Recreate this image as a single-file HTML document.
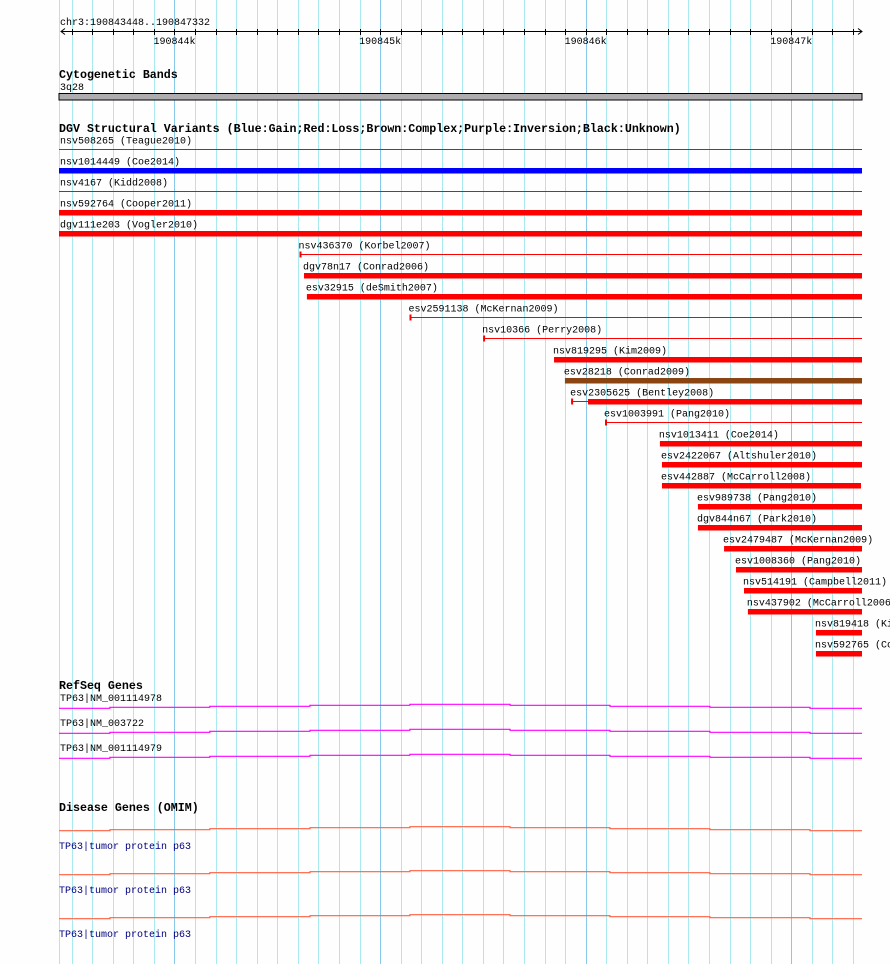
<!DOCTYPE html>
<html><head><meta charset="utf-8"><style>
html,body{margin:0;padding:0;background:#fdfefd;width:890px;height:964px;overflow:hidden}
svg{display:block}
text{font-family:"Liberation Mono",monospace;font-size:10px;fill:#000}
.hdr{font-weight:bold;font-size:11.65px}
</style></head><body>
<svg id="chart" width="890" height="964" xmlns="http://www.w3.org/2000/svg"></svg>
<script>
const regionStart = 190843448;
const regionEnd = 190847332;
const tickLabels = ["190844k","190845k","190846k","190847k"];
const tickValues = [190844000,190845000,190846000,190847000];
const svNames = ["nsv508265 (Teague2010)","nsv1014449 (Coe2014)","nsv4167 (Kidd2008)","nsv592764 (Cooper2011)","dgv111e203 (Vogler2010)","nsv436370 (Korbel2007)","dgv78n17 (Conrad2006)","esv32915 (deSmith2007)","esv2591138 (McKernan2009)","nsv10366 (Perry2008)","nsv819295 (Kim2009)","esv28218 (Conrad2009)","esv2305625 (Bentley2008)","esv1003991 (Pang2010)","nsv1013411 (Coe2014)","esv2422067 (Altshuler2010)","esv442887 (McCarroll2008)","esv989738 (Pang2010)","dgv844n67 (Park2010)","esv2479487 (McKernan2009)","esv1008360 (Pang2010)","nsv514191 (Campbell2011)","nsv437902 (McCarroll2006)","nsv819418 (Kim2009)","nsv592765 (Cooper2011)"];
const svStarts = [190843400,190843400,190843400,190843400,190843400,190844608,190844630,190844644,190845143,190845501,190845846,190845899,190845929,190846094,190846361,190846371,190846371,190846546,190846546,190846673,190846731,190846770,190846789,190847120,190847120];
const svThickStarts = [null,190843400,null,190843400,190843400,null,190844630,190844644,null,null,190845846,190845899,190846011,null,190846361,190846371,190846371,190846546,190846546,190846673,190846731,190846770,190846789,190847120,190847120];
const svEnds = [190847400,190847400,190847400,190847400,190847400,190847400,190847400,190847400,190847400,190847400,190847400,190847400,190847400,190847400,190847400,190847400,190847339,190847400,190847400,190847400,190847400,190847400,190847400,190847400,190847400];
const svTypes = ["loss","gain","loss","loss","loss","loss","loss","loss","loss","loss","loss","complex","loss","loss","loss","loss","loss","loss","loss","loss","loss","loss","loss","loss","loss"];
const refseqNames = ["TP63|NM_001114978","TP63|NM_003722","TP63|NM_001114979"];
const omimNames = ["TP63|tumor protein p63","TP63|tumor protein p63","TP63|tumor protein p63"];
const geneSteps = [190843686,190844172,190844659,190845145,190845632,190846118,190846604,190847091];
const geneOffsets = [0,-1,-2,-3,-4,-3,-2,-1,0];

const NS="http://www.w3.org/2000/svg";
const svg=document.getElementById('chart');
const L=59,R=862;
const pxPerBp=205.6/1000;
function xs(bp){return Math.max(L,Math.min(R,61+(bp-regionStart)*pxPerBp));}
function mk(tag,attrs,parent){const e=document.createElementNS(NS,tag);for(const k in attrs)e.setAttribute(k,attrs[k]);(parent||svg).appendChild(e);return e;}
const colors={gain:"#0000ff",loss:"#ff0000",complex:"#8b4513"};

// grid
const grid=mk('g',{});


mk('line',{x1:59.5,x2:59.5,y1:0,y2:964,stroke:"#a8eaf0","stroke-width":1},grid);
for(let bp=Math.ceil(regionStart/100)*100;bp<=regionEnd;bp+=100){
  const x=Math.round(xs(bp))+0.5;
  const major=bp%1000===0;
  const ln=mk('line',{x1:x,x2:x,y1:0,y2:964,stroke:major?"#88c8e8":"#a8eaf0","stroke-width":1},grid);
  
  
}

// ruler
const rul=mk('g',{});


const t0=mk('text',{x:60,y:25},rul);t0.textContent="chr3:"+regionStart+".."+regionEnd;


mk('line',{x1:61,x2:862,y1:31.5,y2:31.5,stroke:"#000"},rul);
mk('path',{d:"M65,28.5 L61,31.5 L65,34.5",fill:"none",stroke:"#000"},rul);
mk('path',{d:"M858,28.5 L862,31.5 L858,34.5",fill:"none",stroke:"#000"},rul);
for(let bp=Math.ceil(regionStart/100)*100;bp<=regionEnd;bp+=100){
  const x=Math.round(xs(bp))+0.5;
  mk('line',{x1:x,x2:x,y1:29,y2:35,stroke:"#000"},rul);
}
tickValues.forEach((v,i)=>{
  const t=mk('text',{x:xs(v),y:44,"text-anchor":"middle"},rul);t.textContent=tickLabels[i];
  
  
});

// cytoband
const h1=mk('text',{x:59,y:78,class:"hdr"});h1.textContent="Cytogenetic Bands";


const cb=mk('text',{x:60,y:90});cb.textContent="3q28";


const band=mk('rect',{x:59,y:93.5,width:803,height:6.5,fill:"#aeacae",stroke:"#000","stroke-width":1});



// DGV
const h2=mk('text',{x:59,y:132,class:"hdr"});h2.textContent="DGV Structural Variants (Blue:Gain;Red:Loss;Brown:Complex;Purple:Inversion;Black:Unknown)";


svNames.forEach((n,i)=>{
  const cy=149.5+21*i;
  const g=mk('g',{});
  
  
  const c=colors[svTypes[i]];
  const x0=xs(svStarts[i]),x1=xs(svEnds[i]);
  const tx=mk('text',{x:Math.max(60,x0-1),y:cy-6},g);tx.textContent=n;
  if(svThickStarts[i]===null||xs(svThickStarts[i])>x0+1){
    mk('line',{x1:x0,x2:x1,y1:cy,y2:cy,stroke:c,"stroke-width":1},g);
    if(x0>L+1) mk('rect',{x:x0,y:cy-3,width:2,height:6,fill:c},g);
  }
  if(svThickStarts[i]!==null){
    const xt=xs(svThickStarts[i]);
    mk('rect',{x:xt,y:cy-2.5,width:x1-xt,height:5.5,fill:c},g);
  }
});

// RefSeq
const h3=mk('text',{x:59,y:689,class:"hdr"});h3.textContent="RefSeq Genes";


function geneLine(base,color,parent){
  const xsArr=[L].concat(geneSteps.map(xs)).concat([R]);
  let d="";
  for(let k=0;k<geneOffsets.length;k++){
    const y=base+geneOffsets[k];
    d+=(k===0?"M":"L")+xsArr[k]+","+y+" L"+xsArr[k+1]+","+y+" ";
  }
  mk('path',{d:d,fill:"none",stroke:color,"stroke-width":1.2},parent);
}
refseqNames.forEach((n,i)=>{
  const g=mk('g',{});
  
  
  const t=mk('text',{x:60,y:701+25*i},g);t.textContent=n;
  geneLine(708.3+25*i,"#ff00ff",g);
});

// OMIM
const h4=mk('text',{x:59,y:811,class:"hdr"});h4.textContent="Disease Genes (OMIM)";


omimNames.forEach((n,i)=>{
  const g=mk('g',{});
  
  
  geneLine(830.7+44*i,"#ff6040",g);
  const t=mk('text',{x:59,y:849+44*i,fill:"#000080"},g);t.textContent=n;
  t.style.fill="#000080";
});
</script>
</body></html>
